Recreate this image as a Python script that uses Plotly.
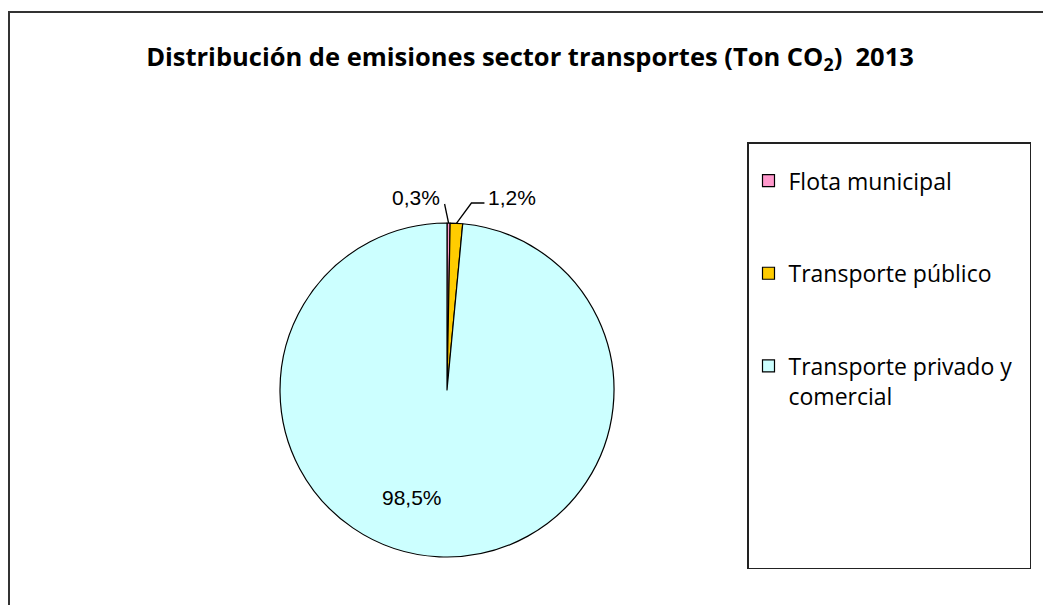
import math

import plotly.graph_objects as go

# datos del grafico
categorias = ["Flota municipal", "Transporte público", "Transporte privado y<br>comercial"]
porcentajes = [0.3, 1.2, 98.5]
colores = ["#FF99CC", "#FFCC00", "#CCFFFF"]
titulo = "Distribución de emisiones sector transportes (Ton CO<sub>2</sub>)  2013"

W, H = 1051, 605
OFF = 8  # margen del body de la pagina
# geometria de la torta en pixeles
CX, CY, R = 447, 390, 167


def px(x):
    return (x - OFF) / W


def py(y):
    return 1 - (y - OFF) / H


def borde(i):
    """Punto del borde en el angulo medio de la porcion i (sentido horario desde arriba)."""
    acum = sum(porcentajes[:i]) + porcentajes[i] / 2
    ang = math.radians(acum / sum(porcentajes) * 360)
    return CX + R * math.sin(ang), CY - R * math.cos(ang)


def fmt(v):
    return f"{v:.1f}%".replace(".", ",")


# etiquetas de la leyenda con espacio vertical extra (y un poco de ancho)
relleno = ["<br> <br> ", "<br> <br> ", "<br> <br> <br> <br> <br> "]
etiquetas_leyenda = [
    (c.replace("<br>", "\u00a0\u00a0<br>") if "<br>" in c else c) + r
    for c, r in zip(categorias, relleno)
]

fig = go.Figure(
    go.Pie(
        labels=etiquetas_leyenda,
        values=porcentajes,
        sort=False,
        direction="clockwise",
        rotation=0,
        marker=dict(colors=colores, line=dict(color="#000000", width=1.2)),
        textinfo="none",
        hoverinfo="percent",
        domain=dict(x=[px(CX - R), px(CX + R)], y=[py(CY + R), py(CY - R)]),
    )
)

# lineas guia
x0, y0 = borde(0)
x1, y1 = borde(1)
shapes = [
    dict(type="rect", xref="paper", yref="paper", x0=px(9), y0=-0.05, x1=1.05, y1=py(12),
         line=dict(color="#333333", width=2), fillcolor="rgba(0,0,0,0)"),
    dict(type="line", xref="paper", yref="paper", x0=px(x0), y0=py(y0), x1=px(x0 - 4), y1=py(204),
         line=dict(color="#000000", width=1.3)),
    dict(type="path", xref="paper", yref="paper",
         path=f"M {px(x1)},{py(y1)} L {px(x1 + 15)},{py(203)} L {px(x1 + 28)},{py(203)}",
         line=dict(color="#000000", width=1.3)),
]

fuente_dato = dict(family="Liberation Sans, Arial", size=21, color="#000000")
annotations = [
    dict(text=fmt(porcentajes[0]), x=px(416), y=py(197), xanchor="center", yanchor="middle",
         xref="paper", yref="paper", showarrow=False, font=fuente_dato),
    dict(text=fmt(porcentajes[1]), x=px(512), y=py(197), xanchor="center", yanchor="middle",
         xref="paper", yref="paper", showarrow=False, font=fuente_dato),
    dict(text=fmt(porcentajes[2]), x=px(412), y=py(497), xanchor="center", yanchor="middle",
         xref="paper", yref="paper", showarrow=False, font=fuente_dato),
]

fig.update_layout(
    width=W,
    height=H,
    margin=dict(l=0, r=0, t=0, b=0),
    paper_bgcolor="#FFFFFF",
    plot_bgcolor="#FFFFFF",
    title=dict(
        text=titulo,
        x=px(530),
        xanchor="center",
        y=py(57),
        yanchor="middle",
        yref="container",
        font=dict(family="Open Sans, sans-serif", size=25.5, color="#000000", weight="bold"),
    ),
    showlegend=True,
    legend=dict(
        x=px(747),
        y=py(142),
        xanchor="left",
        yanchor="top",
        bordercolor="#222222",
        borderwidth=1.5,
        bgcolor="#FFFFFF",
        valign="top",
        font=dict(family="Open Sans, sans-serif", size=23, color="#000000"),
        title=dict(text=" ", font=dict(size=12)),
    ),
    shapes=shapes,
    annotations=annotations,
)

fig.write_html("out.html")
